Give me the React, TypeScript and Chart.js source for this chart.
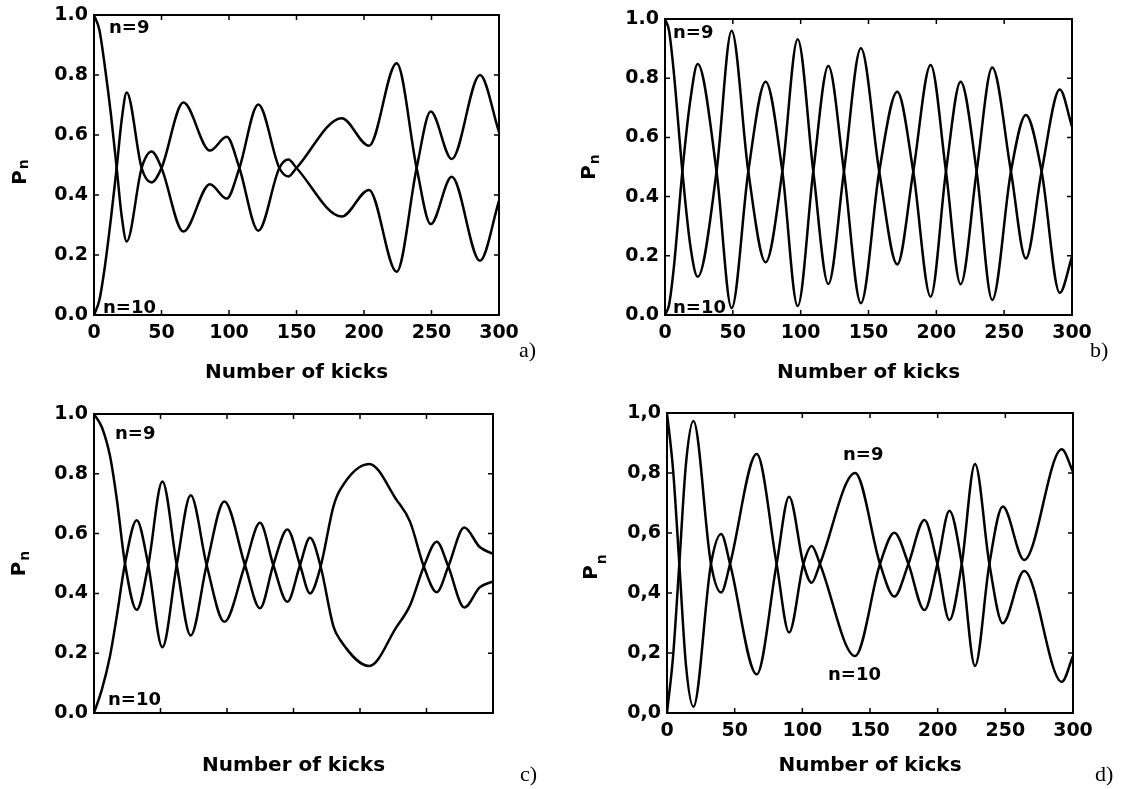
import React, { useEffect, useRef } from "react";
import { Chart, registerables } from "chart.js";

Chart.register(...registerables);

// ---------- axis ticks ----------
const xTickValues = [0, 50, 100, 150, 200, 250, 300];
const xTickLabels = ["0", "50", "100", "150", "200", "250", "300"];
const yTickValues = [0, 0.2, 0.4, 0.6, 0.8, 1.0];
const yTickLabelsDot = ["0.0", "0.2", "0.4", "0.6", "0.8", "1.0"];
const yTickLabelsComma = ["0,0", "0,2", "0,4", "0,6", "0,8", "1,0"];

// ---------- panel a ----------
const kicksA = [0, 4, 8, 12.5, 16.8, 20.5, 24.2, 35.3, 42.7, 50, 66.2, 85.9, 98.3, 107.7, 121.7, 137.3, 144, 150, 183.5, 203.7, 224.2, 239, 249.4, 265, 285.9, 300];
const p9A = [1.0, 0.95, 0.83, 0.67, 0.49, 0.33, 0.245, 0.49, 0.545, 0.49, 0.278, 0.436, 0.388, 0.49, 0.702, 0.49, 0.462, 0.49, 0.656, 0.564, 0.839, 0.49, 0.303, 0.461, 0.181, 0.38];
const p10A = [0.0, 0.05, 0.16, 0.32, 0.49, 0.65, 0.742, 0.49, 0.442, 0.49, 0.708, 0.548, 0.594, 0.49, 0.281, 0.49, 0.518, 0.49, 0.328, 0.417, 0.144, 0.49, 0.678, 0.52, 0.8, 0.61];

// ---------- panel b ----------
const kicksB = [0, 3, 6.5, 12.8, 18.5, 24.1, 38, 49.1, 61.4, 74.2, 86.5, 97.8, 109.3, 120.4, 131.9, 144.4, 157.9, 171.2, 183, 195.8, 207.1, 217.9, 229.7, 241.2, 255, 266, 277.6, 291, 300];
const p9B = [1.0, 0.96, 0.82, 0.485, 0.24, 0.129, 0.485, 0.96, 0.485, 0.178, 0.485, 0.932, 0.485, 0.105, 0.485, 0.901, 0.485, 0.171, 0.485, 0.845, 0.485, 0.104, 0.485, 0.836, 0.485, 0.191, 0.485, 0.762, 0.636];
const p10B = [0.0, 0.035, 0.16, 0.485, 0.72, 0.848, 0.485, 0.023, 0.485, 0.788, 0.485, 0.03, 0.485, 0.841, 0.485, 0.04, 0.485, 0.754, 0.485, 0.062, 0.485, 0.788, 0.485, 0.051, 0.485, 0.676, 0.485, 0.075, 0.197];

// ---------- panel c ----------
const kicksC = [0, 6, 12, 17, 23.3, 32.1, 40.8, 51.4, 62.2, 72.7, 84.7, 98, 113.5, 124.8, 134.8, 145.4, 154.9, 162.4, 170.4, 180, 185, 207, 227.6, 237.6, 248, 257.7, 266.4, 278.4, 290, 300];
const p9C = [1.0, 0.955, 0.86, 0.72, 0.5, 0.345, 0.495, 0.774, 0.495, 0.259, 0.495, 0.707, 0.495, 0.35, 0.495, 0.614, 0.495, 0.4, 0.49, 0.69, 0.746, 0.833, 0.712, 0.64, 0.49, 0.404, 0.49, 0.62, 0.555, 0.532];
const p10C = [0.0, 0.08, 0.19, 0.32, 0.5, 0.645, 0.495, 0.22, 0.495, 0.728, 0.495, 0.305, 0.495, 0.636, 0.495, 0.372, 0.495, 0.586, 0.49, 0.29, 0.245, 0.157, 0.289, 0.36, 0.49, 0.573, 0.49, 0.353, 0.42, 0.44];

// ---------- panel d ----------
const kicksD = [0, 4.5, 9.1, 14, 19.5, 32.5, 40, 46.6, 66.3, 81, 90.2, 100.8, 106.9, 113, 139, 157.4, 168, 178.4, 190.2, 199.8, 208.7, 217.8, 227.6, 238.2, 248.1, 263.9, 291.7, 300];
const p9D = [1.0, 0.81, 0.497, 0.16, 0.021, 0.497, 0.597, 0.497, 0.129, 0.497, 0.721, 0.497, 0.434, 0.497, 0.8, 0.497, 0.388, 0.497, 0.643, 0.497, 0.31, 0.497, 0.83, 0.497, 0.299, 0.473, 0.104, 0.19];
const p10D = [0.0, 0.19, 0.497, 0.83, 0.973, 0.497, 0.402, 0.497, 0.863, 0.497, 0.268, 0.497, 0.557, 0.497, 0.19, 0.497, 0.601, 0.497, 0.343, 0.497, 0.674, 0.497, 0.157, 0.497, 0.688, 0.51, 0.879, 0.804];

const FONT = '"DejaVu Sans", "Liberation Sans", Arial, sans-serif';

type PanelCfg = {
  key: string;
  letter: string;
  letterLeft: number;
  letterTop: number;
  left: number;
  top: number;
  width: number;
  height: number;
  padTop: number;
  padRight: number;
  yAxisW: number;
  xAxisH: number;
  kicks: number[];
  p9: number[];
  p10: number[];
  yLabels: string[];
  showXLabels: boolean;
  n9: [number, number];
  n10: [number, number];
  pn: [number, number, number];
};

const panels: PanelCfg[] = [
  {
    key: "a", letter: "a)", letterLeft: 519, letterTop: 339,
    left: 0, top: 0, width: 525, height: 385, padTop: 15, padRight: 26, yAxisW: 94, xAxisH: 70,
    kicks: kicksA, p9: p9A, p10: p10A, yLabels: yTickLabelsDot, showXLabels: true,
    n9: [15, 18], n10: [9, -2], pn: [-75.5, 7, 2],
  },
  {
    key: "b", letter: "b)", letterLeft: 1090, letterTop: 339,
    left: 571, top: 0, width: 527, height: 385, padTop: 19, padRight: 26, yAxisW: 94, xAxisH: 70,
    kicks: kicksB, p9: p9B, p10: p10B, yLabels: yTickLabelsDot, showXLabels: true,
    n9: [8, 19], n10: [8, -2], pn: [-77, 0, 4],
  },
  {
    key: "c", letter: "c)", letterLeft: 520, letterTop: 763,
    left: 0, top: 395, width: 509, height: 383, padTop: 19, padRight: 16, yAxisW: 94, xAxisH: 65,
    kicks: kicksC, p9: p9C, p10: p10C, yLabels: yTickLabelsDot, showXLabels: false,
    n9: [21, 25], n10: [14, -8], pn: [-76, 0, 4],
  },
  {
    key: "d", letter: "d)", letterLeft: 1095, letterTop: 763,
    left: 573, top: 395, width: 526, height: 383, padTop: 18, padRight: 26, yAxisW: 94, xAxisH: 65,
    kicks: kicksD, p9: p9D, p10: p10D, yLabels: yTickLabelsComma, showXLabels: true,
    n9: [176, 47], n10: [161, -33], pn: [-77.5, 4, 9],
  },
];

function Panel({ cfg }: { cfg: PanelCfg }) {
  const ref = useRef<HTMLCanvasElement | null>(null);

  useEffect(() => {
    if (!ref.current) return;

    const framePlugin = {
      id: "frame_" + cfg.key,
      afterDatasetsDraw(chart: any) {
        const { ctx, chartArea } = chart;
        const { left, right, top, bottom } = chartArea;
        const xs = chart.scales.x;
        const ys = chart.scales.y;
        ctx.save();
        ctx.strokeStyle = "#000";
        ctx.lineWidth = 2;
        ctx.strokeRect(left, top, right - left, bottom - top);
        ctx.lineWidth = 1.5;
        ctx.beginPath();
        xTickValues.forEach((v) => {
          const px = xs.getPixelForValue(v);
          ctx.moveTo(px, bottom);
          ctx.lineTo(px, bottom - 5);
          ctx.moveTo(px, top);
          ctx.lineTo(px, top + 5);
        });
        yTickValues.forEach((v) => {
          const py = ys.getPixelForValue(v);
          ctx.moveTo(left, py);
          ctx.lineTo(left + 5, py);
          ctx.moveTo(right, py);
          ctx.lineTo(right - 5, py);
        });
        ctx.stroke();

        // curve labels
        ctx.fillStyle = "#000";
        ctx.font = "bold 18px " + FONT;
        ctx.textAlign = "left";
        ctx.textBaseline = "alphabetic";
        ctx.fillText("n=9", left + cfg.n9[0], top + cfg.n9[1]);
        ctx.fillText("n=10", left + cfg.n10[0], bottom + cfg.n10[1]);

        // y axis title P_n
        ctx.translate(left + cfg.pn[0], (top + bottom) / 2 + cfg.pn[1]);
        ctx.rotate(-Math.PI / 2);
        ctx.font = "bold 20px " + FONT;
        const wP = ctx.measureText("P").width;
        ctx.font = "bold 14px " + FONT;
        const wn = ctx.measureText("n").width;
        const total = wP + 1 + wn;
        ctx.font = "bold 20px " + FONT;
        ctx.fillText("P", -total / 2, 7);
        ctx.font = "bold 14px " + FONT;
        ctx.fillText("n", -total / 2 + wP + 1, 7 + cfg.pn[2]);
        ctx.restore();
      },
    };

    const chart = new Chart(ref.current, {
      type: "line",
      data: {
        datasets: [
          {
            label: "n=9",
            data: cfg.kicks.map((k, i) => ({ x: k, y: cfg.p9[i] })),
            borderColor: "#000",
            borderWidth: 2.5,
            pointRadius: 0,
            cubicInterpolationMode: "monotone",
            fill: false,
          },
          {
            label: "n=10",
            data: cfg.kicks.map((k, i) => ({ x: k, y: cfg.p10[i] })),
            borderColor: "#000",
            borderWidth: 2.5,
            pointRadius: 0,
            cubicInterpolationMode: "monotone",
            fill: false,
          },
        ],
      },
      options: {
        animation: false,
        responsive: false,
        devicePixelRatio: 1,
        layout: { padding: { top: cfg.padTop, right: cfg.padRight, left: 0, bottom: 0 } },
        plugins: { legend: { display: false }, tooltip: { enabled: false } },
        scales: {
          x: {
            type: "linear",
            min: 0,
            max: 300,
            afterBuildTicks: (s: any) => {
              s.ticks = xTickValues.map((v) => ({ value: v }));
            },
            afterFit: (s: any) => {
              s.height = cfg.xAxisH;
              s.paddingLeft = 0;
              s.paddingRight = 0;
            },
            grid: { display: false, drawTicks: false },
            border: { display: false },
            ticks: {
              display: cfg.showXLabels,
              color: "#000",
              padding: 7,
              maxRotation: 0,
              font: { family: FONT, size: 19, weight: "bold" },
              callback: (_v: any, i: number) => xTickLabels[i],
            },
            title: {
              display: true,
              text: "Number of kicks",
              color: "#000",
              font: { family: FONT, size: 20, weight: "bold" },
              padding: { top: 0, bottom: 0 },
            },
          },
          y: {
            type: "linear",
            min: 0,
            max: 1,
            afterBuildTicks: (s: any) => {
              s.ticks = yTickValues.map((v) => ({ value: v }));
            },
            afterFit: (s: any) => {
              s.width = cfg.yAxisW;
              s.paddingTop = 0;
              s.paddingBottom = 0;
            },
            grid: { display: false, drawTicks: false },
            border: { display: false },
            ticks: {
              color: "#000",
              padding: 6,
              font: { family: FONT, size: 19, weight: "bold" },
              callback: (_v: any, i: number) => cfg.yLabels[i],
            },
          },
        },
      },
      plugins: [framePlugin],
    } as any);

    return () => chart.destroy();
  }, [cfg]);

  return (
    <>
      <canvas
        ref={ref}
        width={cfg.width}
        height={cfg.height}
        style={{ position: "absolute", left: cfg.left, top: cfg.top, width: cfg.width, height: cfg.height }}
      />
      <div
        style={{
          position: "absolute",
          left: cfg.letterLeft,
          top: cfg.letterTop,
          fontFamily: '"Liberation Serif", "DejaVu Serif", serif',
          fontSize: 22,
          lineHeight: "22px",
          color: "#000",
          whiteSpace: "nowrap",
        }}
      >
        {cfg.letter}
      </div>
    </>
  );
}

export default function App() {
  return (
    <div style={{ position: "absolute", left: 0, top: 0, width: 1128, height: 789, background: "#fff", overflow: "hidden" }}>
      {panels.map((p) => (
        <Panel key={p.key} cfg={p} />
      ))}
    </div>
  );
}
